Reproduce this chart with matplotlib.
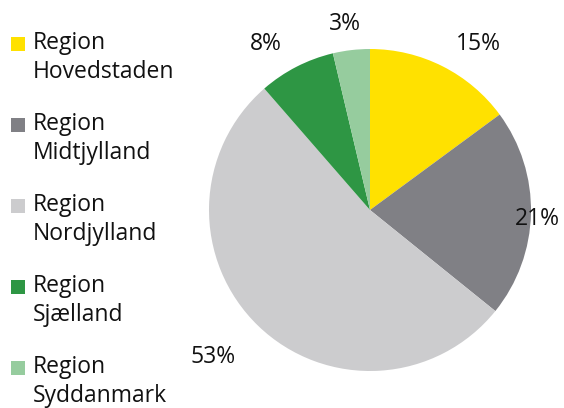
import numpy as np
import matplotlib
matplotlib.use("Agg")
import matplotlib.pyplot as plt
from matplotlib.patches import Rectangle

# data (slice sizes, labels as printed)
regions = ["Region\nHovedstaden", "Region\nMidtjylland", "Region\nNordjylland",
           "Region\nSjælland", "Region\nSyddanmark"]
shares = [14.9, 20.9, 52.8, 7.7, 3.7]
pct_labels = ["15%", "21%", "53%", "8%", "3%"]
colors = ["#FFE100", "#808085", "#CCCCCE", "#2E9644", "#96CC9E"]

# label placement (radius factor, angle shift in degrees)
label_r = [1.24, 1.04, 1.33, 1.23, 1.18]
label_shift = [-6, -1, -3.4, 4.6, 1]

plt.rcParams['font.family'] = ['Open Sans', 'DejaVu Sans']
FS = 16.5

W, H = 564, 408
fig = plt.figure(figsize=(W / 100, H / 100), dpi=100)
fig.patch.set_facecolor("white")

cx, cy, R = 370, 210, 161
ax = fig.add_axes([(cx - R) / W, (H - cy - R) / H, 2 * R / W, 2 * R / H])
wedges, _ = ax.pie(shares, colors=colors, startangle=90, counterclock=False,
                   radius=1, wedgeprops=dict(linewidth=0))
ax.set_xlim(-1, 1)
ax.set_ylim(-1, 1)
ax.set_aspect("equal")
ax.axis("off")

for w, lab, rf, sh in zip(wedges, pct_labels, label_r, label_shift):
    mid = np.deg2rad((w.theta1 + w.theta2) / 2 + sh)
    ax.text(rf * np.cos(mid), rf * np.sin(mid) - 0.012, lab, ha="center",
            va="center", fontsize=FS, color="#111111", clip_on=False)

# legend on the left
top = 37
step = 81
for i, (name, c) in enumerate(zip(regions, colors)):
    y0 = top + i * step
    fig.patches.append(Rectangle((11 / W, 1 - (y0 + 14) / H), 14 / W, 14 / H,
                                 transform=fig.transFigure, facecolor=c,
                                 edgecolor="none"))
    fig.text(33 / W, 1 - (y0 - 6) / H, name, ha="left", va="top",
             fontsize=FS, linespacing=1.3, color="#111111")

fig.savefig("out.png", dpi=100)
